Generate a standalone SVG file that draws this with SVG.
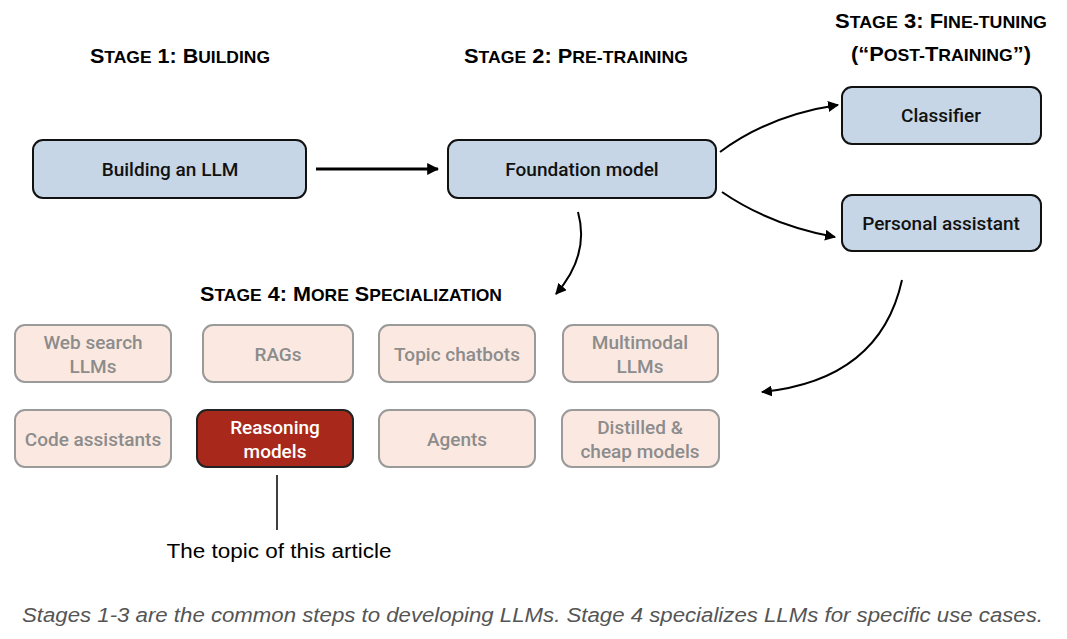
<svg xmlns="http://www.w3.org/2000/svg" width="1067" height="639" viewBox="0 0 1067 639">
<style>
.title{font-family:"Liberation Sans",Arial,sans-serif;font-weight:bold;font-size:21px;fill:#000;text-anchor:middle}
.sc{font-size:17px}
.n text{font-family:Roboto,"Liberation Sans",Arial,sans-serif;font-weight:500;font-size:19px;text-anchor:middle}
.blue rect{fill:#c6d6e6;stroke:#111;stroke-width:2}
.blue text{fill:#111}
.pink rect{fill:#fbe9e1;stroke:#9a9a9a;stroke-width:2}
.pink text{fill:#8c8c8c}
.red rect{fill:#a8291b;stroke:#222;stroke-width:2}
.red text{fill:#fff}
.conn path{fill:none;stroke:#000;stroke-width:2}
</style>
<defs>
<marker id="ah" viewBox="0 0 10 10" refX="9" refY="5" markerWidth="5.5" markerHeight="5.5" orient="auto" markerUnits="strokeWidth">
<path d="M0,0 L10,5 L0,10 Z" fill="#000"/>
</marker>
<marker id="ah2" viewBox="0 0 10 10" refX="9" refY="5" markerWidth="4" markerHeight="4" orient="auto" markerUnits="strokeWidth">
<path d="M0,0 L10,5 L0,10 Z" fill="#000"/>
</marker>
</defs>
<rect width="1067" height="639" fill="#fff"/>
<text class="title" x="180" y="63" textLength="180" lengthAdjust="spacingAndGlyphs">S<tspan class="sc">TAGE</tspan> 1: B<tspan class="sc">UILDING</tspan></text>
<text class="title" x="576" y="63" textLength="224" lengthAdjust="spacingAndGlyphs">S<tspan class="sc">TAGE</tspan> 2: P<tspan class="sc">RE-TRAINING</tspan></text>
<text class="title" x="941" y="28" textLength="212" lengthAdjust="spacingAndGlyphs">S<tspan class="sc">TAGE</tspan> 3: F<tspan class="sc">INE-TUNING</tspan></text>
<text class="title" x="941" y="61" textLength="180" lengthAdjust="spacingAndGlyphs">(“P<tspan class="sc">OST-</tspan>T<tspan class="sc">RAINING</tspan>”)</text>
<text class="title" x="351" y="301" textLength="302" lengthAdjust="spacingAndGlyphs">S<tspan class="sc">TAGE</tspan> 4: M<tspan class="sc">ORE</tspan> S<tspan class="sc">PECIALIZATION</tspan></text>

<g id="building" class="n blue"><rect x="33" y="140" width="273" height="58" rx="10"/><text x="170" y="176">Building an LLM</text></g>
<g id="foundation" class="n blue"><rect x="448" y="140" width="268" height="58" rx="10"/><text x="582" y="176">Foundation model</text></g>
<g id="classifier" class="n blue"><rect x="842" y="87" width="199" height="57" rx="10"/><text x="941" y="122">Classifier</text></g>
<g id="personal" class="n blue"><rect x="842" y="195" width="199" height="56" rx="10"/><text x="941" y="230">Personal assistant</text></g>

<g id="websearch" class="n pink"><rect x="15" y="325" width="156" height="57" rx="10"/><text x="93" y="349">Web search</text><text x="93" y="373">LLMs</text></g>
<g id="rags" class="n pink"><rect x="203" y="325" width="150" height="57" rx="10"/><text x="278" y="361">RAGs</text></g>
<g id="topic" class="n pink"><rect x="379" y="325" width="156" height="57" rx="10"/><text x="457" y="361">Topic chatbots</text></g>
<g id="multimodal" class="n pink"><rect x="563" y="325" width="155" height="57" rx="10"/><text x="640" y="349">Multimodal</text><text x="640" y="373">LLMs</text></g>
<g id="code" class="n pink"><rect x="15" y="410" width="156" height="57" rx="10"/><text x="93" y="446">Code assistants</text></g>
<g id="reasoning" class="n red"><rect x="197" y="410" width="156" height="57" rx="10"/><text x="275" y="434">Reasoning</text><text x="275" y="458">models</text></g>
<g id="agents" class="n pink"><rect x="379" y="410" width="156" height="57" rx="10"/><text x="457" y="446">Agents</text></g>
<g id="distilled" class="n pink"><rect x="562" y="410" width="157" height="57" rx="10"/><text x="640" y="434">Distilled &amp;</text><text x="640" y="458">cheap models</text></g>

<g id="connectors" class="conn">
<path d="M316,169 L438,169" style="stroke-width:3" marker-end="url(#ah2)"/>
<path d="M720,152 Q770,115 838,105" marker-end="url(#ah)"/>
<path d="M722,192 Q770,225 835,237" marker-end="url(#ah)"/>
<path d="M578,212 Q590,255 556,294" marker-end="url(#ah)"/>
<path d="M902,280 Q880,380 762,392" marker-end="url(#ah)"/>
<path d="M277,475 L277,530" style="stroke-width:1.5"/>
</g>

<text x="279" y="558" font-family="'Liberation Sans',Arial,sans-serif" font-size="20" fill="#000" text-anchor="middle" textLength="225" lengthAdjust="spacingAndGlyphs">The topic of this article</text>
<text x="22" y="622" font-family="'Liberation Sans',Arial,sans-serif" font-size="20" font-style="italic" fill="#555" textLength="1021" lengthAdjust="spacingAndGlyphs">Stages 1-3 are the common steps to developing LLMs. Stage 4 specializes LLMs for specific use cases.</text>
</svg>
